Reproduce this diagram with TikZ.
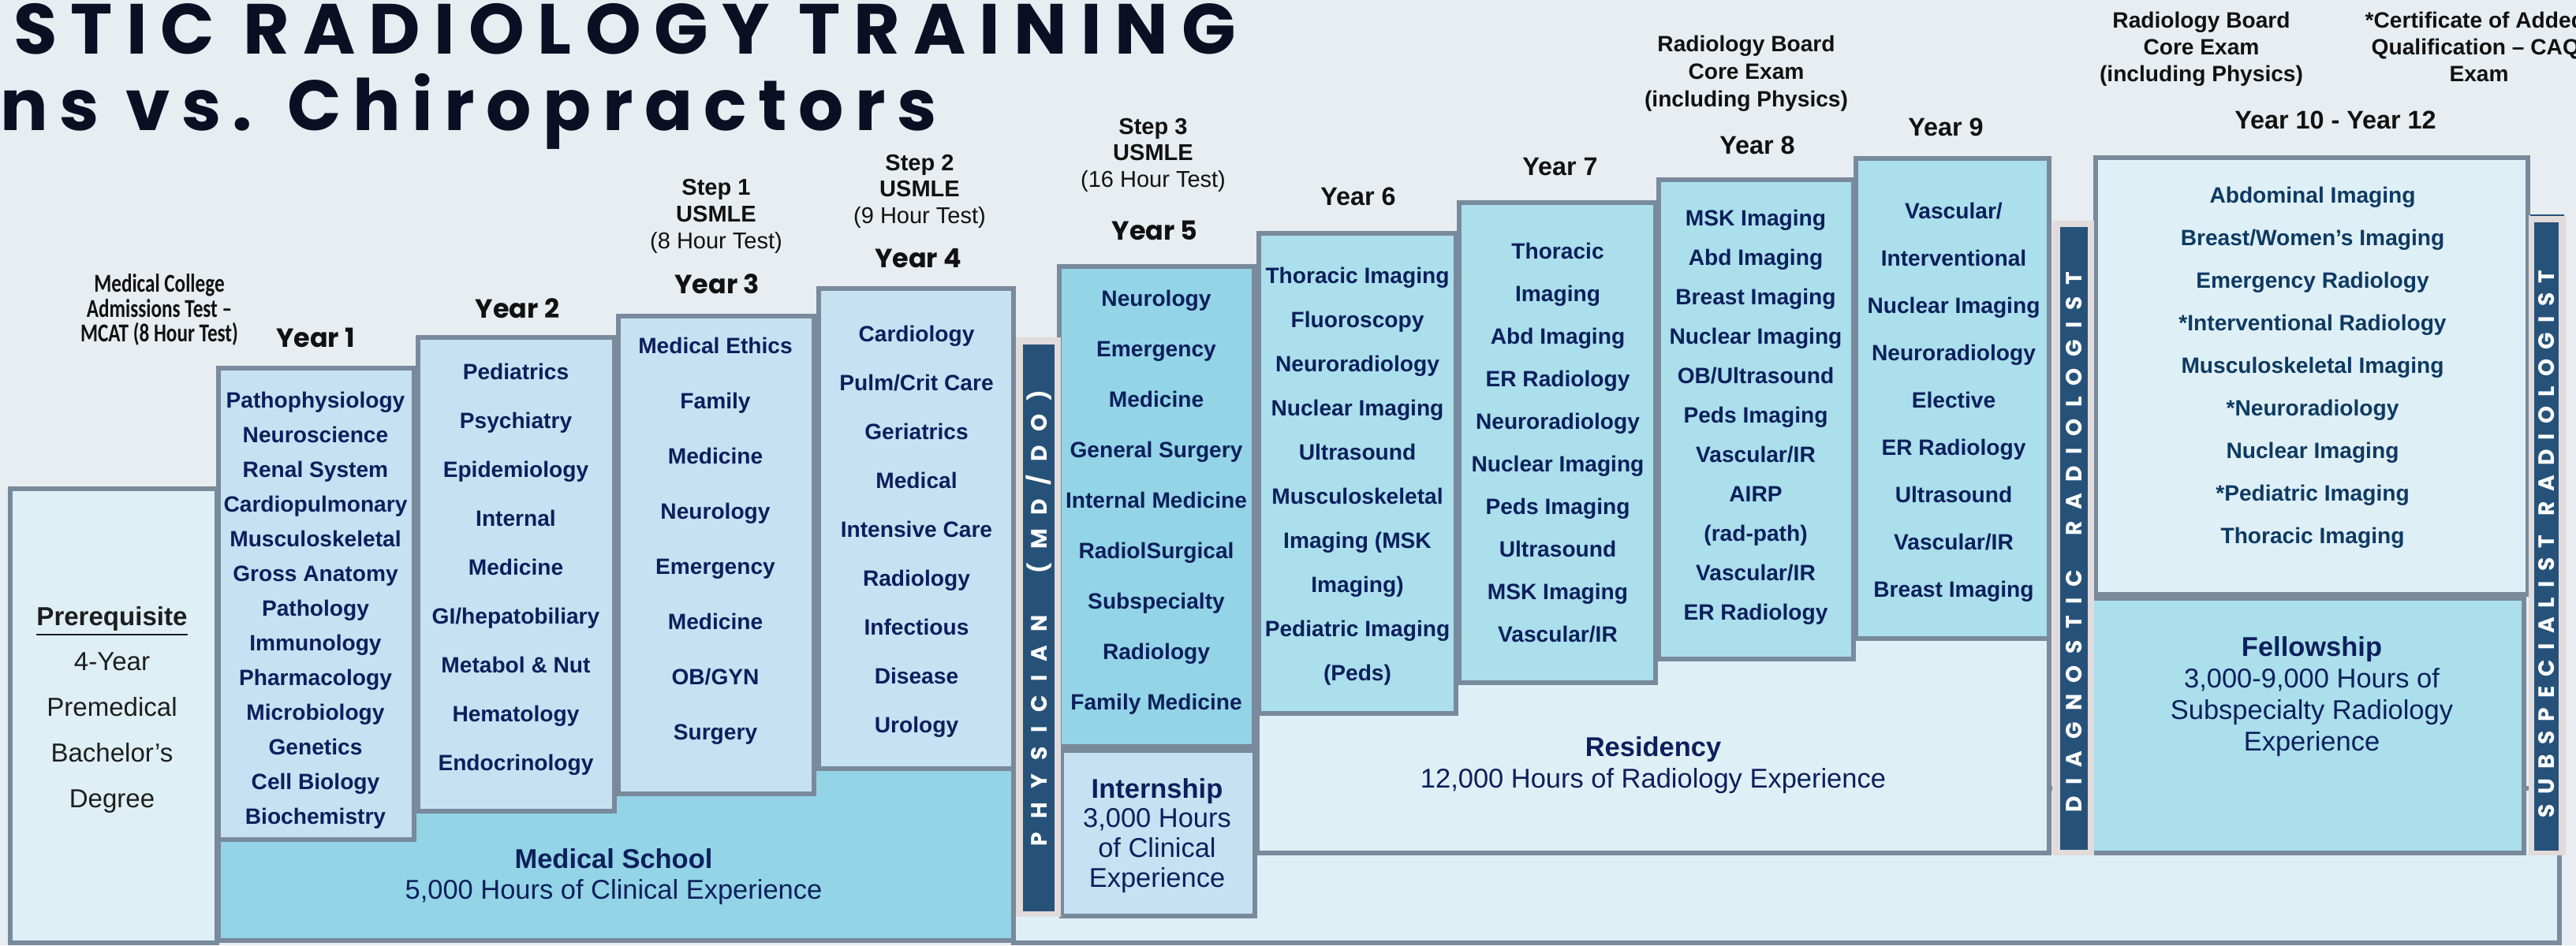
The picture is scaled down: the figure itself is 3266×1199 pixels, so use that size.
\documentclass[tikz,border=0pt]{standalone}
\usepackage{fontspec}
\setmainfont{Liberation Sans}
\newfontfamily\pop{Poppins}
\newfontfamily\poptitleA{Poppins}[LetterSpace=19]
\newfontfamily\poptitleB{Poppins}[LetterSpace=16]
\newfontfamily\carl{Carlito}[FakeStretch=0.77]
\definecolor{bg}{HTML}{E7EDF0}
\definecolor{light}{HTML}{DFEFF6}
\definecolor{pale}{HTML}{C6E1F2}
\definecolor{cyanA}{HTML}{93D4E6}
\definecolor{cyanB}{HTML}{AADFEB}
\definecolor{edge}{HTML}{788A9C}
\definecolor{navy}{HTML}{0C1F5C}
\definecolor{tealnavy}{HTML}{0D3A62}
\definecolor{stripdark}{HTML}{26527A}
\definecolor{strippink}{HTML}{E1DBDB}
\definecolor{ink}{HTML}{111111}
\definecolor{inkgray}{HTML}{1E1E1E}
\definecolor{titleink}{HTML}{0A0F24}
\tikzset{
  box/.style={draw=edge, line width=1.7pt},
  item/.style={anchor=base, inner sep=0pt, text=navy, font=\fontsize{8}{9.6}\selectfont\bfseries},
  itemB/.style={item, text=tealnavy},
  big/.style={anchor=base, inner sep=0pt, text=navy, font=\fontsize{9.8}{11.8}\selectfont},
  bigb/.style={big, font=\fontsize{9.8}{11.8}\selectfont\bfseries},
  yearp/.style={anchor=base, inner sep=0pt, text=ink, font=\pop\fontsize{9.5}{11}\selectfont\bfseries},
  yeara/.style={anchor=base, inner sep=0pt, text=ink, font=\fontsize{9.2}{11}\selectfont\bfseries},
  steps/.style={anchor=base, inner sep=0pt, text=ink, font=\fontsize{8.25}{10}\selectfont},
  stepb/.style={steps, font=\fontsize{8.25}{10}\selectfont\bfseries},
  board/.style={anchor=base, inner sep=0pt, text=ink, font=\fontsize{8}{10}\selectfont\bfseries},
  prereq/.style={anchor=base, inner sep=0pt, text=inkgray, font=\fontsize{9.4}{11}\selectfont},
  mcat/.style={anchor=base, inner sep=0pt, text=ink, font=\carl\fontsize{9.3}{10}\selectfont\bfseries},
  striptext/.style={text=white, inner sep=0pt, rotate=90, font=\pop\fontsize{8}{9}\selectfont\bfseries},
  titletext/.style={anchor=base east, inner sep=0pt, text=titleink}
}
\begin{document}
\begin{tikzpicture}[x=0.01cm, y=-0.01cm]
\path[use as bounding box, fill=bg] (0,0) rectangle (3266,1199);

% ---- base and large boxes
\draw[box, fill=light] (1285,1000) rectangle (3245,1196);
\draw[box, fill=light] (13,620) rectangle (275,1196);
\draw[box, fill=cyanA] (277,975) rectangle (1285,1193);

% ---- medical school years
\draw[box, fill=pale] (277,467) rectangle (525,1065);
\draw[box, fill=pale] (530,428) rectangle (779,1029);
\draw[box, fill=pale] (784,401) rectangle (1032,1007);
\draw[box, fill=pale] (1038,366) rectangle (1285,975);

% ---- residency
\draw[box, fill=light] (1594,780) rectangle (2598,1082);
\draw[box, fill=cyanB] (1596,296) rectangle (1846,905);
\draw[box, fill=cyanB] (1850,257) rectangle (2099,866);
\draw[box, fill=cyanB] (2103,228) rectangle (2350,836);
\draw[box, fill=cyanB] (2353,201) rectangle (2598,810);

% ---- year 5 / internship
\draw[box, fill=cyanA] (1343,338) rectangle (1590,947);
\draw[box, fill=pale] (1346,952) rectangle (1591,1162);

% ---- fellowship
\draw[box, fill=light] (2657,200) rectangle (3205,754);
\draw[box, fill=cyanB] (2652,759) rectangle (3200,1082);

% ---- vertical strips
\fill[strippink] (1288,428) rectangle (1345,1163);
\fill[stripdark] (1297,437) rectangle (1337,1156);
\fill[strippink] (2602,280) rectangle (2655,1085);
\fill[stripdark] (2612,288) rectangle (2647,1078);
\fill[strippink] (3206,273) rectangle (3253,1085);
\fill[stripdark] (3213,282) rectangle (3244,1079);
\draw[stripdark, line width=0.4pt] (3208,273) -- (3251,273);

\node[striptext] (phys) at (1317,784) {\makebox[5.78cm]{P\hfill H\hfill Y\hfill S\hfill I\hfill C\hfill I\hfill A\hfill N\hfill\hfill\hfill (\hfill M\hfill D\hfill /\hfill D\hfill O\hfill )}};
\node[striptext] (diag) at (2630,688) {\makebox[6.85cm]{D\hfill I\hfill A\hfill G\hfill N\hfill O\hfill S\hfill T\hfill I\hfill C\hfill\hfill\hfill R\hfill A\hfill D\hfill I\hfill O\hfill L\hfill O\hfill G\hfill I\hfill S\hfill T}};
\node[striptext] (subs) at (3229,690) {\makebox[6.94cm]{S\hfill U\hfill B\hfill S\hfill P\hfill E\hfill C\hfill I\hfill A\hfill L\hfill I\hfill S\hfill T\hfill\hfill R\hfill A\hfill D\hfill I\hfill O\hfill L\hfill O\hfill G\hfill I\hfill S\hfill T}};

% ---- title (cut at the left edge)
\node[titletext, font=\poptitleA\fontsize{25.6}{30}\selectfont\bfseries] (title1) at (1568,68) {STIC RADIOLOGY TRAINING};
\node[titletext, font=\poptitleB\fontsize{25.6}{30}\selectfont\bfseries] (title2) at (1188,165) {ns vs. Chiropractors};

% ---- prerequisite
\node[prereq, font=\fontsize{9.4}{11}\selectfont\bfseries] (pre0) at (142,793) {\underline{Prerequisite}};
\foreach \t [count=\i from 1] in {4-Year,Premedical,Bachelor’s,Degree}
  \node[prereq] (pre\i) at (142,{792+58*\i}) {\t};

% ---- MCAT label
\node[mcat] (mcat1) at (202,370) {Medical College};
\node[mcat] (mcat2) at (202,402) {Admissions Test –};
\node[mcat] (mcat3) at (202,433) {MCAT (8 Hour Test)};

% ---- year labels
\node[yearp] (yl1) at (400,440) {Year 1};
\node[yearp] (yl2) at (656,403) {Year 2};
\node[yearp] (yl3) at (909,372) {Year 3};
\node[yearp] (yl4) at (1164,339) {Year 4};
\node[yearp] (yl5) at (1464,304) {Year 5};
\node[yeara] (yl6) at (1722,260) {Year 6};
\node[yeara] (yl7) at (1978,222) {Year 7};
\node[yeara] (yl8) at (2228,195) {Year 8};
\node[yeara] (yl9) at (2467,172) {Year 9};
\node[yeara] (yl10) at (2961,163) {Year 10 - Year 12};

% ---- USMLE labels
\node[stepb] (s1a) at (908,247) {Step 1};
\node[stepb] (s1b) at (908,281) {USMLE};
\node[steps] (s1c) at (908,315) {(8 Hour Test)};
\node[stepb] (s2a) at (1166,216) {Step 2};
\node[stepb] (s2b) at (1166,249) {USMLE};
\node[steps] (s2c) at (1166,283) {(9 Hour Test)};
\node[stepb] (s3a) at (1462,170) {Step 3};
\node[stepb] (s3b) at (1462,203) {USMLE};
\node[steps] (s3c) at (1462,237) {(16 Hour Test)};

% ---- board labels
\node[board] (b1a) at (2214,65) {Radiology Board};
\node[board] (b1b) at (2214,100) {Core Exam};
\node[board] (b1c) at (2214,135) {(including Physics)};
\node[board] (b2a) at (2791,35) {Radiology Board};
\node[board] (b2b) at (2791,69) {Core Exam};
\node[board] (b2c) at (2791,103) {(including Physics)};
\begin{scope}
\clip (0,0) rectangle (3266,1199);
\node[board, anchor=base west] (c1) at (2998,35) {*Certificate of Added};
\node[board, anchor=base west] (c2) at (3006,69) {Qualification – CAQ};
\end{scope}
\node[board] (c3) at (3143,103) {Exam};

% ---- box contents
\foreach \t [count=\i from 0] in {Pathophysiology,Neuroscience,Renal System,Cardiopulmonary,Musculoskeletal,Gross Anatomy,Pathology,Immunology,Pharmacology,Microbiology,Genetics,Cell Biology,Biochemistry}
  \node[item] (ya\i) at (400,{517+44*\i}) {\t};
\foreach \t [count=\i from 0] in {Pediatrics,Psychiatry,Epidemiology,Internal,Medicine,GI/hepatobiliary,Metabol \& Nut,Hematology,Endocrinology}
  \node[item] (yb\i) at (654,{481+62*\i}) {\t};
\foreach \t [count=\i from 0] in {Medical Ethics,Family,Medicine,Neurology,Emergency,Medicine,OB/GYN,Surgery}
  \node[item] (yc\i) at (907,{448+70*\i}) {\t};
\foreach \t [count=\i from 0] in {Cardiology,Pulm/Crit Care,Geriatrics,Medical,Intensive Care,Radiology,Infectious,Disease,Urology}
  \node[item] (yd\i) at (1162,{433+62*\i}) {\t};
\foreach \t [count=\i from 0] in {Neurology,Emergency,Medicine,General Surgery,Internal Medicine,RadiolSurgical,Subspecialty,Radiology,Family Medicine}
  \node[item] (ye\i) at (1466,{388+64*\i}) {\t};
\foreach \t [count=\i from 0] in {Thoracic Imaging,Fluoroscopy,Neuroradiology,Nuclear Imaging,Ultrasound,Musculoskeletal,Imaging (MSK,Imaging),Pediatric Imaging,(Peds)}
  \node[item] (yf\i) at (1721,{359+56*\i}) {\t};
\foreach \t [count=\i from 0] in {Thoracic,Imaging,Abd Imaging,ER Radiology,Neuroradiology,Nuclear Imaging,Peds Imaging,Ultrasound,MSK Imaging,Vascular/IR}
  \node[item] (yg\i) at (1975,{328+54*\i}) {\t};
\foreach \t [count=\i from 0] in {MSK Imaging,Abd Imaging,Breast Imaging,Nuclear Imaging,OB/Ultrasound,Peds Imaging,Vascular/IR,AIRP,(rad-path),Vascular/IR,ER Radiology}
  \node[item] (yh\i) at (2226,{286+50*\i}) {\t};
\foreach \t [count=\i from 0] in {Vascular/,Interventional,Nuclear Imaging,Neuroradiology,Elective,ER Radiology,Ultrasound,Vascular/IR,Breast Imaging}
  \node[item] (yi\i) at (2477,{277+60*\i}) {\t};
\foreach \t [count=\i from 0] in {Abdominal Imaging,Breast/Women’s Imaging,Emergency Radiology,*Interventional Radiology,Musculoskeletal Imaging,*Neuroradiology,Nuclear Imaging,*Pediatric Imaging,Thoracic Imaging}
  \node[itemB] (yj\i) at (2932,{257+54*\i}) {\t};

% ---- big box texts
\node[bigb] (ms1) at (778,1101) {Medical School};
\node[big] (ms2) at (778,1140) {5,000 Hours of Clinical Experience};
\node[bigb] (in1) at (1467,1012) {Internship};
\node[big] (in2) at (1467,1049) {3,000 Hours};
\node[big] (in3) at (1467,1087) {of Clinical};
\node[big] (in4) at (1467,1125) {Experience};
\node[bigb] (re1) at (2096,959) {Residency};
\node[big] (re2) at (2096,999) {12,000 Hours of Radiology Experience};
\node[bigb] (fe1) at (2931,832) {Fellowship};
\node[big] (fe2) at (2931,872) {3,000-9,000 Hours of};
\node[big] (fe3) at (2931,912) {Subspecialty Radiology};
\node[big] (fe4) at (2931,952) {Experience};
\end{tikzpicture}
\end{document}
